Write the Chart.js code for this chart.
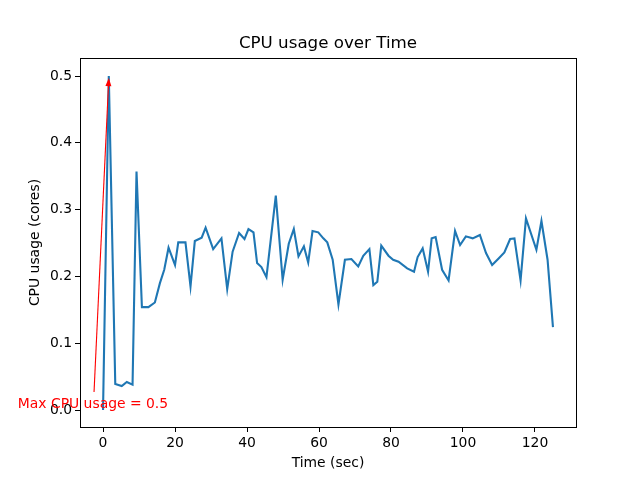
<!DOCTYPE html>
<html>
<head>
<meta charset="utf-8">
<script src="https://cdn.jsdelivr.net/npm/chart.js@4"></script>
<style>
  body { margin: 0; background: #fff; }
</style>
</head>
<body>
<canvas id="chart" width="640" height="480"></canvas>
<script>
const timeSec = [0, 1.6, 3.4, 5.2, 6.6, 8.2, 9.3, 10.8, 12.6, 14.4, 15.8, 17, 18.2, 20, 20.9, 22.9,
  24.3, 25.5, 27.4, 28.5, 30.6, 32.9, 34.5, 36, 37.8, 39.3, 40.4, 41.8, 42.8, 44, 45.4, 48, 49.9,
  51.6, 53, 54.3, 55.8, 57, 58.2, 59.8, 61.2, 62.3, 63.8, 65.4, 67.2, 69, 70.9, 72.3, 74, 75.1,
  76.2, 77.3, 79.3, 80.6, 82.1, 84.5, 86.4, 87.4, 88.8, 90.3, 91.3, 92.4, 94.2, 96, 97.8, 99.2,
  100.8, 102.7, 104.7, 106.4, 108.1, 109.9, 111.5, 113.1, 114.3, 116, 117.5, 120.4, 121.8, 123.5, 125];
const cpuUsage = [0, 0.5, 0.039, 0.036, 0.042, 0.038, 0.357, 0.154, 0.154, 0.161, 0.19, 0.21, 0.243, 0.217, 0.251, 0.251,
  0.185, 0.253, 0.258, 0.273, 0.241, 0.257, 0.181, 0.237, 0.265, 0.256, 0.271, 0.266, 0.22, 0.214, 0.199, 0.321, 0.195,
  0.249, 0.271, 0.23, 0.245, 0.221, 0.268, 0.266, 0.257, 0.251, 0.225, 0.158, 0.225, 0.226, 0.215, 0.231, 0.241, 0.187,
  0.192, 0.246, 0.231, 0.225, 0.222, 0.212, 0.207, 0.229, 0.242, 0.207, 0.257, 0.259, 0.21, 0.194, 0.268, 0.247,
  0.26, 0.257, 0.262, 0.235, 0.217, 0.227, 0.236, 0.256, 0.257, 0.194, 0.287, 0.24, 0.283, 0.225, 0.124];
const xTicks = [0, 20, 40, 60, 80, 100, 120];
const yTicks = [0, 0.1, 0.2, 0.3, 0.4, 0.5];

const chartTitle = 'CPU usage over Time';

// annotation: arrow from text to max point
const annText = 'Max CPU usage = 0.5';
const annTextPos = [-2.8, 0.009];
const annTail = [-2.5, 0.027];
const annTip = [1.6, 0.497];

const FONT = 'DejaVu Sans';

const frame = {
  id: 'frame',
  afterDraw(chart) {
    const { ctx, chartArea: a, scales } = chart;
    ctx.save();
    ctx.strokeStyle = '#000';
    ctx.lineWidth = 1;
    ctx.strokeRect(Math.round(a.left) + 0.5, Math.round(a.top) + 0.5,
      Math.round(a.right - a.left), Math.round(a.bottom - a.top));

    // title centred over the plot area, like matplotlib
    ctx.fillStyle = '#000';
    ctx.font = '16.7px "' + FONT + '"';
    ctx.textAlign = 'center';
    ctx.textBaseline = 'middle';
    ctx.fillText(chartTitle, (a.left + a.right) / 2, a.top - 14);

    // annotation
    const x = scales.x, y = scales.y;
    const tx = x.getPixelForValue(annTail[0]), ty = y.getPixelForValue(annTail[1]);
    const hx = x.getPixelForValue(annTip[0]), hy = y.getPixelForValue(annTip[1]);
    const ang = Math.atan2(hy - ty, hx - tx);
    const len = 8, half = 3;
    const bx = hx - len * Math.cos(ang), by = hy - len * Math.sin(ang);
    ctx.strokeStyle = 'red';
    ctx.fillStyle = 'red';
    ctx.lineWidth = 1.1;
    ctx.beginPath();
    ctx.moveTo(tx, ty);
    ctx.lineTo(bx, by);
    ctx.stroke();
    ctx.beginPath();
    ctx.moveTo(hx, hy);
    ctx.lineTo(bx + half * Math.sin(ang), by - half * Math.cos(ang));
    ctx.lineTo(bx - half * Math.sin(ang), by + half * Math.cos(ang));
    ctx.closePath();
    ctx.fill();

    ctx.font = '13.9px "' + FONT + '"';
    ctx.fillText(annText, x.getPixelForValue(annTextPos[0]), y.getPixelForValue(annTextPos[1]));
    ctx.restore();
  }
};

const tickFont = { family: FONT, size: 13.9 };

new Chart(document.getElementById('chart'), {
  type: 'line',
  data: {
    datasets: [{
      data: timeSec.map((t, i) => ({ x: t, y: cpuUsage[i] })),
      borderColor: '#1f77b4',
      borderWidth: 2.1,
      pointRadius: 0,
      tension: 0,
      fill: false
    }]
  },
  options: {
    responsive: false,
    animation: false,
    layout: { padding: { left: 0, right: 64, top: 58, bottom: 0 } },
    plugins: {
      legend: { display: false },
      tooltip: { enabled: false },
      title: { display: false }
    },
    scales: {
      x: {
        type: 'linear',
        min: -6.4,
        max: 131.4,
        afterBuildTicks: s => { s.ticks = xTicks.map(v => ({ value: v })); },
        afterFit: s => { s.height = 53; },
        grid: { display: true, drawOnChartArea: false, tickLength: 5, tickColor: '#000' },
        border: { color: '#000', width: 1 },
        ticks: { color: '#000', font: tickFont, padding: 3, maxRotation: 0 },
        title: { display: true, text: 'Time (sec)', color: '#000', font: tickFont, padding: { top: 2, bottom: 8 } }
      },
      y: {
        type: 'linear',
        min: -0.0254,
        max: 0.527,
        afterBuildTicks: s => { s.ticks = yTicks.map(v => ({ value: v })); },
        afterFit: s => { s.width = 80; },
        grid: { display: true, drawOnChartArea: false, tickLength: 5, tickColor: '#000' },
        border: { color: '#000', width: 1 },
        ticks: { color: '#000', font: tickFont, padding: 3, callback: v => v.toFixed(1) },
        title: { display: true, text: 'CPU usage (cores)', color: '#000', font: tickFont, padding: { top: 27, bottom: 0 } }
      }
    }
  },
  plugins: [frame]
});
</script>
</body>
</html>
